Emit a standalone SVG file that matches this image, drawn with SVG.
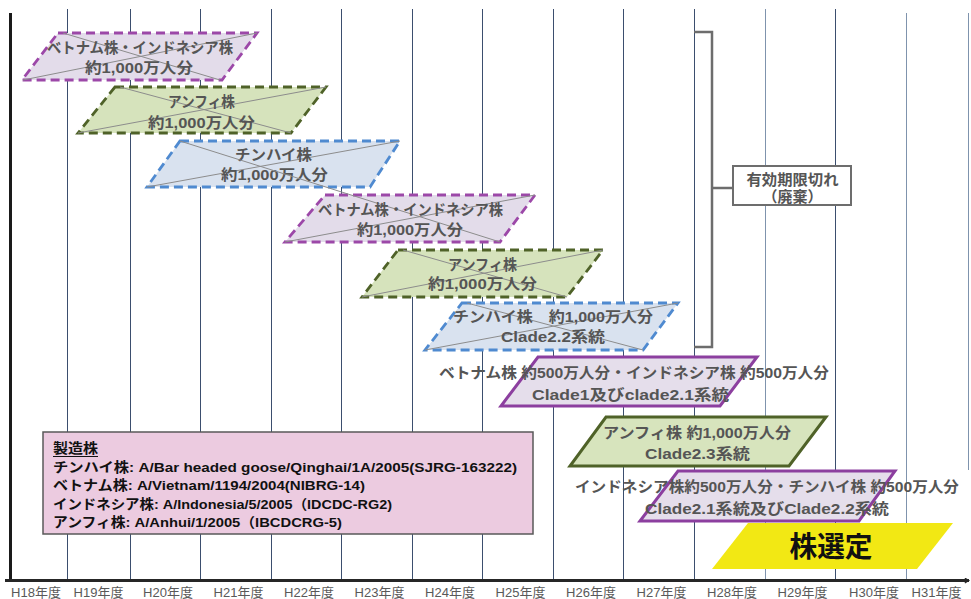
<svg xmlns="http://www.w3.org/2000/svg" width="971" height="599" viewBox="0 0 971 599">
<style>
text{font-family:"Liberation Sans","Noto Sans CJK JP",sans-serif}
.grid{stroke:#3b4e6e;stroke-width:1}
.gl{stroke:#7f93ad}
.lbl{font-size:13px;fill:#595959;text-anchor:middle}
.st{font-size:15px;font-weight:bold;fill:#555;text-anchor:middle}
.lg{font-size:13.5px;font-weight:bold;fill:#111}
.diag{stroke:#8c8c8c;stroke-width:1;fill:none}
.dp{fill:#e3dcea;stroke:#9c48a8;stroke-width:2.8;stroke-dasharray:9 5}
.dg{fill:#d6e3bc;stroke:#4f6228;stroke-width:2.8;stroke-dasharray:9 5}
.db{fill:#d9e2ef;stroke:#4f8ad0;stroke-width:2.8;stroke-dasharray:9 5}
.sp{fill:#e5deeb;stroke:#8c3f9f;stroke-width:3}
.sg{fill:#d7e4bd;stroke:#4f6228;stroke-width:3}
.br{fill:none;stroke:#6d6d6d;stroke-width:2.5}
</style>
<defs>
<marker id="arr" viewBox="0 0 10 10" refX="9" refY="5" markerWidth="6" markerHeight="6" orient="auto" markerUnits="userSpaceOnUse">
<path d="M2,1 L9,5 L2,9" fill="none" stroke="#262626" stroke-width="2"/>
</marker>
</defs>
<rect width="971" height="599" fill="#fff"/>
<g id="grid">
<line class="grid" x1="67.5" y1="9" x2="67.5" y2="579"/>
<line class="grid" x1="130.5" y1="9" x2="130.5" y2="579"/>
<line class="grid" x1="200.5" y1="9" x2="200.5" y2="579"/>
<line class="grid" x1="271.5" y1="9" x2="271.5" y2="579"/>
<line class="grid" x1="341.5" y1="9" x2="341.5" y2="579"/>
<line class="grid" x1="412.5" y1="9" x2="412.5" y2="579"/>
<line class="grid" x1="482.5" y1="9" x2="482.5" y2="579"/>
<line class="grid" x1="553.5" y1="9" x2="553.5" y2="579"/>
<line class="grid" x1="623.5" y1="9" x2="623.5" y2="579"/>
<line class="grid" x1="694.5" y1="9" x2="694.5" y2="579"/>
<line class="grid gl" x1="765.5" y1="9" x2="765.5" y2="579"/>
<line class="grid" x1="835.5" y1="9" x2="835.5" y2="579"/>
<line class="grid gl" x1="906.5" y1="13" x2="906.5" y2="579"/>
<line class="grid gl" x1="968.5" y1="13" x2="968.5" y2="470"/>
</g>
<g id="axes">
<line x1="10.5" y1="13" x2="10.5" y2="582" stroke="#1a1a1a" stroke-width="3"/>
<line x1="5" y1="580.5" x2="969" y2="580.5" stroke="#262626" stroke-width="3" marker-end="url(#arr)"/>
<text class="lbl" x="36" y="597">H18年度</text>
<text class="lbl" x="98.5" y="597">H19年度</text>
<text class="lbl" x="168" y="597">H20年度</text>
<text class="lbl" x="238.5" y="597">H21年度</text>
<text class="lbl" x="309" y="597">H22年度</text>
<text class="lbl" x="379.5" y="597">H23年度</text>
<text class="lbl" x="450" y="597">H24年度</text>
<text class="lbl" x="520.5" y="597">H25年度</text>
<text class="lbl" x="591" y="597">H26年度</text>
<text class="lbl" x="661.5" y="597">H27年度</text>
<text class="lbl" x="732" y="597">H28年度</text>
<text class="lbl" x="802.5" y="597">H29年度</text>
<text class="lbl" x="874" y="597">H30年度</text>
<text class="lbl" x="936.5" y="597">H31年度</text>
</g>
<g id="legend">
<rect x="43" y="432" width="490" height="102" fill="#eccbe0" stroke="#595959" stroke-width="1.5"/>
<text class="lg" x="53" y="453" textLength="45" lengthAdjust="spacingAndGlyphs">製造株</text>
<line x1="53" y1="456.5" x2="98" y2="456.5" stroke="#111" stroke-width="1.2"/>
<text class="lg" x="53" y="472" textLength="464" lengthAdjust="spacingAndGlyphs">チンハイ株:  A/Bar headed goose/Qinghai/1A/2005(SJRG-163222)</text>
<text class="lg" x="53" y="490" textLength="312" lengthAdjust="spacingAndGlyphs">ベトナム株: A/Vietnam/1194/2004(NIBRG-14)</text>
<text class="lg" x="53" y="509" textLength="339" lengthAdjust="spacingAndGlyphs">インドネシア株: A/Indonesia/5/2005（IDCDC-RG2)</text>
<text class="lg" x="53" y="527" textLength="289" lengthAdjust="spacingAndGlyphs">アンフィ株:  A/Anhui/1/2005（IBCDCRG-5)</text>
</g>
<g id="node-vn-id-1">
<polygon class="dp" points="58,33 257,33 222,80 22,80"/>
<line class="diag" x1="63" y1="33" x2="220" y2="80"/>
<line class="diag" x1="257" y1="33" x2="23" y2="80"/>
<text class="st" x="140" y="53" textLength="186" lengthAdjust="spacingAndGlyphs">ベトナム株・インドネシア株</text>
<text class="st" x="139" y="73" textLength="108" lengthAdjust="spacingAndGlyphs">約1,000万人分</text>
</g>
<g id="node-anhui-1">
<polygon class="dg" points="115,87 326,87 291,133 78,133"/>
<line class="diag" x1="120" y1="87" x2="291" y2="133"/>
<line class="diag" x1="326" y1="87" x2="78" y2="133"/>
<text class="st" x="201.5" y="107" textLength="67" lengthAdjust="spacingAndGlyphs">アンフィ株</text>
<text class="st" x="201.5" y="128" textLength="107" lengthAdjust="spacingAndGlyphs">約1,000万人分</text>
</g>
<g id="node-qinghai-1">
<polygon class="db" points="180,141 400,141 370,187 147,187"/>
<line class="diag" x1="400" y1="141" x2="147" y2="187"/>
<text class="st" x="273.5" y="160" textLength="77" lengthAdjust="spacingAndGlyphs">チンハイ株</text>
<text class="st" x="274.5" y="180" textLength="107" lengthAdjust="spacingAndGlyphs">約1,000万人分</text>
</g>
<g id="node-vn-id-2">
<polygon class="dp" points="325,195 535,195 500,242 285,242"/>
<line class="diag" x1="535" y1="195" x2="285" y2="242"/>
<line class="diag" x1="180" y1="141" x2="500" y2="242"/>
<text class="st" x="410.5" y="215" textLength="185" lengthAdjust="spacingAndGlyphs">ベトナム株・インドネシア株</text>
<text class="st" x="410" y="235" textLength="106" lengthAdjust="spacingAndGlyphs">約1,000万人分</text>
</g>
<g id="node-anhui-2">
<polygon class="dg" points="398,250 603,250 567,297 362,297"/>
<line class="diag" x1="403" y1="250" x2="567" y2="297"/>
<line class="diag" x1="603" y1="250" x2="362" y2="297"/>
<text class="st" x="482.5" y="270" textLength="69" lengthAdjust="spacingAndGlyphs">アンフィ株</text>
<text class="st" x="482.5" y="289" textLength="109" lengthAdjust="spacingAndGlyphs">約1,000万人分</text>
</g>
<g id="node-qinghai-2">
<polygon class="db" points="462,303 678,303 643,350 425,350"/>
<line class="diag" x1="467" y1="303" x2="643" y2="350"/>
<line class="diag" x1="678" y1="303" x2="425" y2="350"/>
<text class="st" x="553" y="322" textLength="200" lengthAdjust="spacingAndGlyphs">チンハイ株　約1,000万人分</text>
<text class="st" x="553" y="342" textLength="104" lengthAdjust="spacingAndGlyphs">Clade2.2系統</text>
</g>
<g id="node-vn-id-3">
<polygon class="sp" points="538,357 757,357 720,406 501,406"/>
<text class="st" x="634" y="378" textLength="390" lengthAdjust="spacingAndGlyphs">ベトナム株 約500万人分・インドネシア株 約500万人分</text>
<text class="st" x="630.5" y="400" textLength="197" lengthAdjust="spacingAndGlyphs">Clade1及びclade2.1系統</text>
</g>
<g id="node-anhui-3">
<polygon class="sg" points="606,417 826,417 789,466 570,466"/>
<text class="st" x="697" y="438" textLength="188" lengthAdjust="spacingAndGlyphs">アンフィ株 約1,000万人分</text>
<text class="st" x="697.5" y="459" textLength="105" lengthAdjust="spacingAndGlyphs">Clade2.3系統</text>
</g>
<g id="node-id-qh">
<polygon class="sp" points="678,471 895,471 859,521 640,521"/>
<text class="st" x="767" y="492" textLength="384" lengthAdjust="spacingAndGlyphs">インドネシア株約500万人分・チンハイ株 約500万人分</text>
<text class="st" x="767" y="514" textLength="244" lengthAdjust="spacingAndGlyphs">Clade2.1系統及びClade2.2系統</text>
</g>
<g id="node-selection">
<polygon points="748,523 953,523 917,569 712,569" fill="#f2e814"/>
<text x="831" y="557" font-size="28" font-weight="bold" fill="#111" text-anchor="middle" textLength="83" lengthAdjust="spacingAndGlyphs">株選定</text>
</g>
<g id="connectors">
<polyline class="br" points="694,32 712,32 712,347 694,347"/>
<line class="br" x1="712" y1="188" x2="733" y2="188"/>
</g>
<g id="node-expired">
<rect x="733" y="166" width="118" height="39" fill="#fff" stroke="#6d6d6d" stroke-width="2"/>
<text class="st" x="792.5" y="185" font-size="14" textLength="92" lengthAdjust="spacingAndGlyphs">有効期限切れ</text>
<text class="st" x="792.5" y="202" font-size="14">（廃棄）</text>
</g>
</svg>
